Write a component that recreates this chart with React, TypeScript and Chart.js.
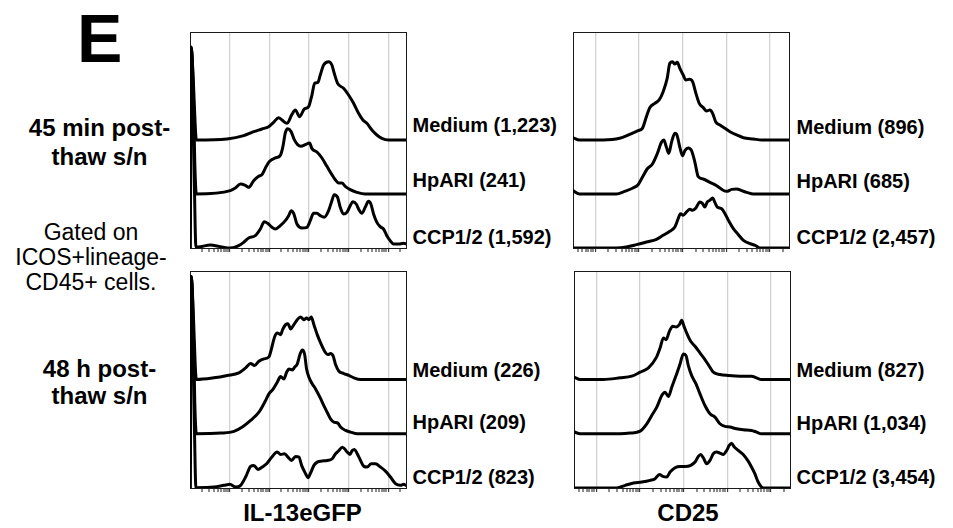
import React, { useEffect, useRef } from "react";
import { Chart, registerables } from "chart.js";

Chart.register(...registerables);

type Pt = [number, number];

// ---------- data (x in decades on the display scale, y = relative height; 1 = one stacking step) ----------
const SERIES_NAMES = ["Medium", "HpARI", "CCP1/2"];
const STACK_OFFSETS = [2, 1, 0];

const IL13_45_COUNTS = ["1,223", "241", "1,592"];
const CD25_45_COUNTS = ["896", "685", "2,457"];
const IL13_48_COUNTS = ["226", "209", "823"];
const CD25_48_COUNTS = ["827", "1,034", "3,454"];

const IL13_45_MEDIUM: Pt[] = [[0,0],[0.02,1.7],[0.08,1.0],[0.12,0.3],[0.15,0],[0.926,0.02],[1.347,0.08],[1.599,0.154],[1.81,0.204],[1.978,0.247],[2.104,0.327],[2.231,0.414],[2.315,0.37],[2.441,0.309],[2.567,0.475],[2.652,0.556],[2.761,0.432],[2.879,0.574],[2.988,0.617],[3.072,0.833],[3.14,1.049],[3.224,1.068],[3.283,1.204],[3.367,1.389],[3.493,1.451],[3.577,1.389],[3.636,1.235],[3.721,1.049],[3.872,0.957],[3.998,0.833],[4.125,0.679],[4.251,0.494],[4.36,0.37],[4.461,0.309],[4.588,0.185],[4.714,0.093],[4.84,0.031],[5.008,0],[5.47,0]];
const IL13_45_HPARI: Pt[] = [[0,0],[0.02,2.7],[0.07,2.0],[0.11,0.6],[0.15,0],[1.01,0.062],[1.136,0.111],[1.263,0.185],[1.389,0.16],[1.473,0.123],[1.599,0.247],[1.726,0.327],[1.81,0.358],[1.919,0.512],[2.003,0.605],[2.146,0.667],[2.273,0.716],[2.34,0.883],[2.399,1.13],[2.458,1.21],[2.542,1.16],[2.626,1.006],[2.71,0.914],[2.795,0.883],[2.904,0.914],[3.013,0.944],[3.072,0.84],[3.199,0.778],[3.325,0.667],[3.451,0.512],[3.577,0.358],[3.662,0.265],[3.746,0.204],[3.83,0.204],[3.914,0.142],[4.04,0.08],[4.209,0.031],[4.419,0],[5.47,0]];
const IL13_45_CCP: Pt[] = [[0,0],[0.02,3.72],[0.06,3.0],[0.1,1.2],[0.14,0.02],[0.253,0.025],[0.505,0.056],[0.758,0.025],[1.01,0],[1.221,0.043],[1.347,0.105],[1.473,0.185],[1.641,0.228],[1.768,0.352],[1.869,0.488],[1.953,0.457],[2.062,0.383],[2.146,0.352],[2.273,0.414],[2.399,0.506],[2.483,0.599],[2.551,0.691],[2.61,0.642],[2.694,0.444],[2.82,0.37],[2.946,0.383],[3.03,0.506],[3.114,0.642],[3.199,0.642],[3.283,0.599],[3.384,0.568],[3.493,0.691],[3.577,0.877],[3.636,0.988],[3.721,0.938],[3.788,0.753],[3.872,0.63],[3.956,0.66],[4.04,0.784],[4.108,0.858],[4.192,0.815],[4.251,0.722],[4.335,0.642],[4.419,0.753],[4.503,0.864],[4.562,0.815],[4.63,0.63],[4.714,0.475],[4.798,0.395],[4.882,0.352],[4.966,0.228],[5.05,0.136],[5.135,0.074],[5.261,0.074],[5.387,0.086],[5.47,0.074]];

const CD25_45_MEDIUM: Pt[] = [[0.487,0.043],[0.64,0],[1.176,0],[1.559,0.031],[1.789,0.105],[1.981,0.173],[2.08,0.216],[2.172,0.432],[2.249,0.599],[2.364,0.679],[2.464,0.741],[2.556,0.895],[2.648,1.142],[2.709,1.42],[2.77,1.451],[2.824,1.407],[2.877,1.438],[2.939,1.327],[3.015,1.204],[3.077,1.111],[3.153,1.123],[3.23,1.08],[3.307,0.864],[3.383,0.679],[3.475,0.599],[3.552,0.537],[3.628,0.556],[3.69,0.494],[3.759,0.34],[3.858,0.278],[3.973,0.216],[4.088,0.154],[4.241,0.093],[4.395,0.043],[4.625,0.019],[4.816,0],[5.44,0]];
const CD25_45_HPARI: Pt[] = [[0.487,0.062],[0.64,0],[1.483,0],[1.674,0.049],[1.866,0.111],[1.981,0.173],[2.08,0.309],[2.188,0.463],[2.31,0.556],[2.418,0.741],[2.517,0.957],[2.571,1.0],[2.632,0.864],[2.686,0.753],[2.747,0.957],[2.824,1.123],[2.877,1.08],[2.939,0.864],[3.0,0.71],[3.054,0.802],[3.13,0.852],[3.207,0.802],[3.284,0.586],[3.36,0.321],[3.475,0.278],[3.628,0.216],[3.782,0.154],[3.92,0.074],[4.011,0.049],[4.126,0.086],[4.241,0.093],[4.356,0.062],[4.471,0.031],[4.625,0],[5.44,0]];
const CD25_45_CCP: Pt[] = [[0.487,0],[1.483,0],[1.713,0.019],[1.943,0.062],[2.172,0.111],[2.402,0.16],[2.556,0.235],[2.709,0.309],[2.824,0.389],[2.9,0.543],[2.954,0.636],[3.015,0.605],[3.092,0.667],[3.169,0.716],[3.23,0.698],[3.307,0.741],[3.398,0.852],[3.46,0.821],[3.513,0.759],[3.567,0.852],[3.628,0.883],[3.69,0.926],[3.743,0.84],[3.797,0.759],[3.897,0.728],[3.973,0.636],[4.073,0.481],[4.165,0.358],[4.28,0.247],[4.395,0.142],[4.548,0.08],[4.663,0.049],[4.778,0],[5.44,0]];

const IL13_48_MEDIUM: Pt[] = [[0,0],[0.02,1.9],[0.08,1.1],[0.12,0.3],[0.15,0],[0.596,0.031],[0.933,0.074],[1.227,0.123],[1.396,0.214],[1.522,0.294],[1.623,0.257],[1.733,0.337],[1.859,0.38],[1.985,0.417],[2.044,0.551],[2.128,0.784],[2.196,0.857],[2.28,0.827],[2.331,0.919],[2.406,1.011],[2.465,1.029],[2.533,0.931],[2.617,1.011],[2.701,1.103],[2.785,1.152],[2.869,1.103],[2.937,1.134],[2.996,1.103],[3.055,1.152],[3.122,1.011],[3.206,0.827],[3.291,0.674],[3.392,0.521],[3.476,0.459],[3.543,0.478],[3.611,0.429],[3.669,0.276],[3.754,0.153],[3.88,0.11],[4.006,0.074],[4.133,0.031],[4.301,0],[5.45,0]];
const IL13_48_HPARI: Pt[] = [[0,0],[0.02,2.9],[0.07,2.1],[0.11,0.6],[0.15,0],[0.764,0.012],[1.101,0.043],[1.312,0.123],[1.522,0.245],[1.733,0.398],[1.901,0.612],[1.985,0.735],[2.095,0.827],[2.196,0.949],[2.28,1.053],[2.364,1.011],[2.432,1.133],[2.491,1.194],[2.575,1.176],[2.634,1.225],[2.701,1.286],[2.768,1.458],[2.827,1.544],[2.886,1.47],[2.937,1.194],[2.996,1.041],[3.08,0.919],[3.164,0.827],[3.274,0.674],[3.392,0.49],[3.476,0.368],[3.543,0.276],[3.627,0.214],[3.728,0.196],[3.796,0.123],[3.922,0.061],[4.048,0.031],[4.217,0],[5.45,0]];
const IL13_48_CCP: Pt[] = [[0,0],[0.02,3.9],[0.06,3.1],[0.1,1.2],[0.14,0.006],[0.596,0.018],[0.848,0.049],[1.0,0.067],[1.143,0.018],[1.269,0.049],[1.396,0.202],[1.522,0.398],[1.606,0.417],[1.707,0.343],[1.817,0.386],[1.926,0.447],[2.044,0.557],[2.196,0.662],[2.28,0.619],[2.381,0.631],[2.465,0.57],[2.557,0.508],[2.659,0.582],[2.743,0.57],[2.811,0.417],[2.912,0.263],[2.971,0.19],[3.038,0.276],[3.122,0.417],[3.206,0.478],[3.333,0.496],[3.459,0.508],[3.585,0.539],[3.669,0.631],[3.754,0.692],[3.838,0.753],[3.897,0.723],[3.964,0.662],[4.032,0.619],[4.091,0.692],[4.149,0.711],[4.217,0.631],[4.301,0.508],[4.385,0.398],[4.469,0.386],[4.57,0.447],[4.678,0.447],[4.804,0.386],[4.931,0.312],[5.057,0.202],[5.183,0.08],[5.309,0.049],[5.394,0.067],[5.45,0.049]];

const CD25_48_MEDIUM: Pt[] = [[0.497,0.043],[0.634,0],[1.168,0],[1.549,0.031],[1.815,0.061],[2.006,0.135],[2.196,0.214],[2.371,0.398],[2.463,0.582],[2.539,0.766],[2.6,0.735],[2.676,0.888],[2.752,0.98],[2.829,0.968],[2.905,1.011],[2.958,1.091],[3.011,0.98],[3.088,0.827],[3.164,0.704],[3.263,0.612],[3.377,0.49],[3.491,0.368],[3.59,0.245],[3.682,0.135],[3.834,0.092],[4.025,0.074],[4.291,0.061],[4.558,0.061],[4.672,0.031],[4.787,0],[5.44,0]];
const CD25_48_HPARI: Pt[] = [[0.497,0.031],[0.634,0],[1.549,0],[1.777,0.012],[2.006,0.049],[2.158,0.184],[2.272,0.337],[2.387,0.49],[2.501,0.704],[2.577,0.766],[2.653,0.686],[2.73,0.857],[2.829,1.072],[2.92,1.286],[2.996,1.47],[3.057,1.44],[3.11,1.256],[3.187,1.072],[3.286,0.919],[3.377,0.735],[3.491,0.521],[3.606,0.368],[3.72,0.306],[3.834,0.184],[3.949,0.135],[4.063,0.123],[4.215,0.092],[4.368,0.074],[4.558,0.061],[4.672,0.031],[4.787,0],[5.44,0]];
const CD25_48_CCP: Pt[] = [[0.497,0],[1.472,0],[1.663,0.049],[1.853,0.092],[2.044,0.11],[2.234,0.141],[2.349,0.172],[2.448,0.251],[2.524,0.214],[2.615,0.202],[2.691,0.294],[2.806,0.374],[2.92,0.398],[3.034,0.398],[3.164,0.417],[3.263,0.478],[3.339,0.582],[3.392,0.619],[3.453,0.557],[3.53,0.447],[3.606,0.508],[3.682,0.631],[3.758,0.662],[3.834,0.643],[3.91,0.619],[3.987,0.692],[4.048,0.784],[4.101,0.827],[4.154,0.766],[4.253,0.692],[4.368,0.619],[4.482,0.496],[4.558,0.386],[4.634,0.263],[4.71,0.11],[4.787,0.018],[4.863,0],[5.44,0]];

const MAJOR_DECADES = [1, 2, 3, 4, 5];
const MINOR_STEPS = [2, 3, 4, 5, 6, 7, 8, 9];

// ---------- styling ----------
const FONT = '"Liberation Sans", Arial, Helvetica, sans-serif';
const GRID_COLOR = "#d2d2d2";
const FRAME_COLOR = "#1a1a1a";

function tickValues(min: number, max: number): number[] {
  const out: number[] = [];
  for (let d = 0; d <= 5; d++) {
    if (MAJOR_DECADES.includes(d)) out.push(d);
    for (const k of MINOR_STEPS) out.push(d + Math.log10(k));
  }
  return out.filter((v) => v > min && v < max).sort((a, b) => a - b);
}

const isMajor = (ctx: any) => !!ctx.tick && MAJOR_DECADES.includes(ctx.tick.value);

const PAD = 6;
const TICK = 4;
const EXTRA = 3;

interface PanelProps {
  left: number;
  top: number;
  width: number;
  height: number;
  xMin: number;
  xMax: number;
  curves: Pt[][];
}

function Panel({ left, top, width, height, xMin, xMax, curves }: PanelProps) {
  const ref = useRef<HTMLCanvasElement>(null);
  const cw = width + 2 * PAD;
  const ch = height + PAD + TICK + EXTRA;

  useEffect(() => {
    const ticks = tickValues(xMin, xMax);
    const frame = { display: true, color: FRAME_COLOR, width: 1 };
    const hiddenGrid = { display: false, drawTicks: false };
    const chart = new Chart(ref.current as HTMLCanvasElement, {
      type: "line",
      data: {
        datasets: curves.map((c, i) => ({
          label: SERIES_NAMES[i],
          data: c.map(([x, y]) => ({ x, y: y + STACK_OFFSETS[i] })),
          borderColor: "#000",
          borderWidth: 3,
          pointRadius: 0,
          fill: false,
          cubicInterpolationMode: "monotone" as const,
          borderJoinStyle: "round" as const,
          borderCapStyle: "round" as const,
        })),
      },
      options: {
        animation: false,
        responsive: false,
        devicePixelRatio: 1,
        events: [],
        layout: { padding: { left: PAD, right: PAD, top: PAD, bottom: EXTRA } },
        plugins: { legend: { display: false }, tooltip: { enabled: false } },
        scales: {
          x: {
            type: "linear",
            position: "bottom",
            min: xMin,
            max: xMax,
            bounds: "data",
            afterBuildTicks: (s: any) => {
              s.ticks = ticks.map((v) => ({ value: v }));
            },
            ticks: { display: false, autoSkip: false },
            grid: {
              display: true,
              drawOnChartArea: true,
              drawTicks: true,
              tickLength: TICK,
              tickWidth: 1,
              tickColor: FRAME_COLOR,
              lineWidth: (ctx: any) => (isMajor(ctx) ? 1.3 : 0),
              color: (ctx: any) => (isMajor(ctx) ? GRID_COLOR : "rgba(0,0,0,0)"),
            },
            border: frame,
          },
          x2: {
            type: "linear",
            axis: "x",
            position: "top",
            display: true,
            min: 0,
            max: 1,
            ticks: { display: false },
            grid: hiddenGrid,
            border: frame,
          },
          y: {
            type: "linear",
            position: "left",
            min: 0,
            max: 4,
            ticks: { display: false },
            grid: hiddenGrid,
            border: frame,
          },
          y2: {
            type: "linear",
            axis: "y",
            position: "right",
            display: true,
            min: 0,
            max: 1,
            ticks: { display: false },
            grid: hiddenGrid,
            border: frame,
          },
        },
      } as any,
    });
    return () => chart.destroy();
  }, []);

  return (
    <canvas
      ref={ref}
      width={cw}
      height={ch}
      style={{ position: "absolute", left: left - PAD, top: top - PAD, width: cw, height: ch }}
    />
  );
}

interface TxtProps {
  x: number;
  baseline: number;
  size: number;
  bold?: boolean;
  align?: "left" | "center";
  children: React.ReactNode;
}

function Txt({ x, baseline, size, bold, align = "left", children }: TxtProps) {
  const top = baseline - 0.8465 * size;
  const common: React.CSSProperties = {
    position: "absolute",
    top,
    fontFamily: FONT,
    fontSize: size,
    lineHeight: `${size}px`,
    fontWeight: bold ? 700 : 400,
    color: "#000",
    whiteSpace: "nowrap",
  };
  if (align === "center") {
    return <div style={{ ...common, left: x - 200, width: 400, textAlign: "center" }}>{children}</div>;
  }
  return <div style={{ ...common, left: x }}>{children}</div>;
}

const LABEL_SIZE = 20;

function SeriesLabels({ x, baselines, counts }: { x: number; baselines: number[]; counts: string[] }) {
  return (
    <>
      {SERIES_NAMES.map((n, i) => (
        <Txt key={n} x={x} baseline={baselines[i]} size={LABEL_SIZE} bold>
          {`${n} (${counts[i]})`}
        </Txt>
      ))}
    </>
  );
}

export default function App() {
  return (
    <div
      style={{
        position: "fixed",
        left: 0,
        top: 0,
        width: 953,
        height: 528,
        background: "#fff",
        overflow: "hidden",
      }}
    >
      <Txt x={77} baseline={61.7} size={68} bold>
        E
      </Txt>

      <Txt x={99.5} baseline={136} size={24} bold align="center">
        45 min post-
      </Txt>
      <Txt x={99.5} baseline={165} size={24} bold align="center">
        thaw s/n
      </Txt>

      <Txt x={91} baseline={240} size={23} align="center">
        Gated on
      </Txt>
      <Txt x={91} baseline={265.5} size={23} align="center">
        ICOS+lineage-
      </Txt>
      <Txt x={91} baseline={290} size={23} align="center">
        CD45+ cells.
      </Txt>

      <Txt x={99.5} baseline={377} size={24} bold align="center">
        48 h post-
      </Txt>
      <Txt x={99.5} baseline={404} size={24} bold align="center">
        thaw s/n
      </Txt>

      <Panel left={190} top={32} width={216} height={216} xMin={-0.01} xMax={5.45}
        curves={[IL13_45_MEDIUM, IL13_45_HPARI, IL13_45_CCP]} />
      <Panel left={573} top={32} width={216} height={216} xMin={0.49} xMax={5.44}
        curves={[CD25_45_MEDIUM, CD25_45_HPARI, CD25_45_CCP]} />
      <Panel left={190} top={271} width={216} height={217} xMin={-0.01} xMax={5.45}
        curves={[IL13_48_MEDIUM, IL13_48_HPARI, IL13_48_CCP]} />
      <Panel left={574} top={271} width={216} height={217} xMin={0.49} xMax={5.44}
        curves={[CD25_48_MEDIUM, CD25_48_HPARI, CD25_48_CCP]} />

      <SeriesLabels x={412.5} baselines={[131.5, 186.5, 244]} counts={IL13_45_COUNTS} />
      <SeriesLabels x={796.5} baselines={[134, 188, 244]} counts={CD25_45_COUNTS} />
      <SeriesLabels x={412.5} baselines={[377, 428.5, 484]} counts={IL13_48_COUNTS} />
      <SeriesLabels x={796.5} baselines={[377, 430, 484]} counts={CD25_48_COUNTS} />

      <Txt x={302.5} baseline={521.5} size={24} bold align="center">
        IL-13eGFP
      </Txt>
      <Txt x={688} baseline={521.5} size={24} bold align="center">
        CD25
      </Txt>
    </div>
  );
}
